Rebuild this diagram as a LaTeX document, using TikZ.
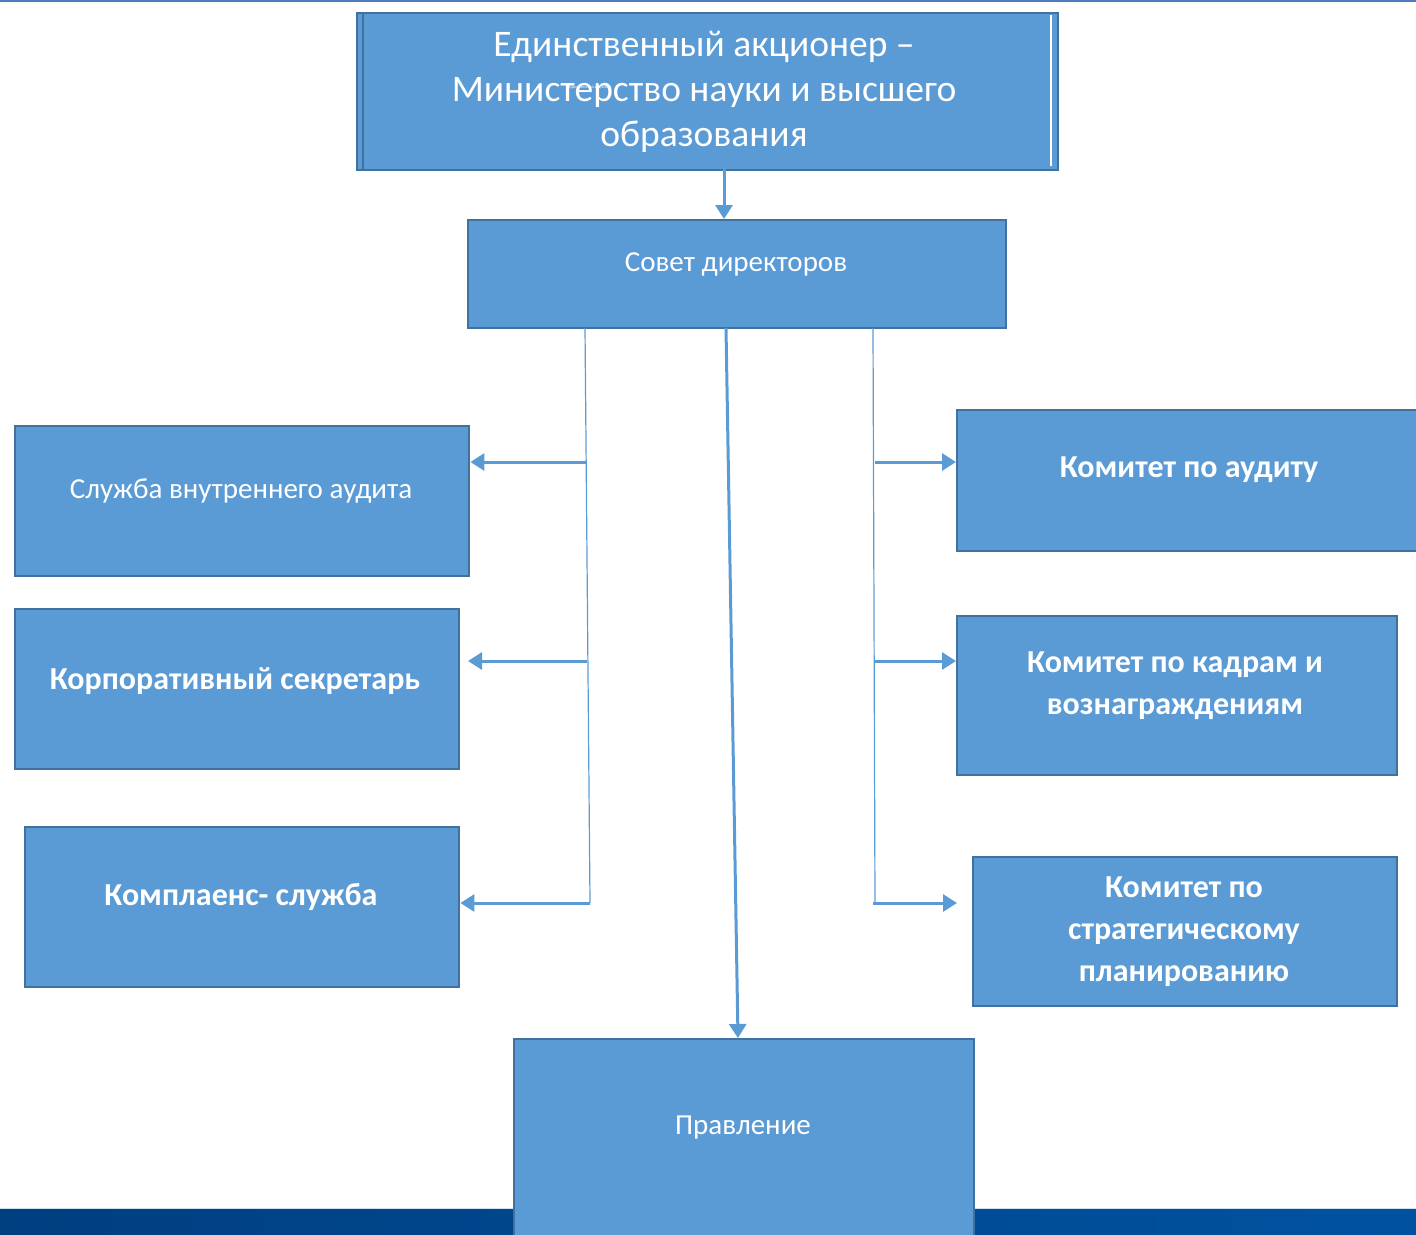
\documentclass[tikz,border=0pt]{standalone}
\usepackage{fontspec}
\setmainfont{Carlito}
\usetikzlibrary{arrows.meta}
\definecolor{boxfill}{HTML}{5B9BD5}
\definecolor{boxline}{HTML}{41719C}
\definecolor{bandL}{HTML}{003F80}
\definecolor{bandR}{HTML}{0052A0}
\definecolor{topline}{HTML}{4F7BC0}
\tikzset{
  orgbox/.style={draw=boxline, fill=boxfill, line width=2.4pt, inner sep=0pt, anchor=north west},
  wtext/.style={text=white, align=center, font=\fontsize{29}{36}\selectfont},
  btext/.style={text=white, align=center, font=\bfseries\fontsize{32}{42}\selectfont},
  conn/.style={draw=boxfill, line width=3pt, -{Triangle[length=14pt,width=17pt]}},
  thinline/.style={draw=boxfill, line width=1.2pt},
}
\begin{document}
\begin{tikzpicture}[x=1pt,y=-1pt]
\useasboundingbox (0,0) rectangle (1416,1234);
% top thin line
\draw[topline, line width=1.5pt] (0,1) -- (1416,1);
% bottom band
\shade[left color=bandL, right color=bandR] (0,1208) rectangle (1416,1234);
\draw[white!70!boxfill, line width=1pt] (0,1208) -- (1416,1208);

% top box (double edge)
\node[orgbox, minimum width=695pt, minimum height=157pt] (shadow) at (356,12) {};
\node[orgbox, minimum width=695pt, minimum height=157pt] (top) at (362,12) {};
\draw[white, line width=1.5pt] (1051,15) -- (1051,166);
\node[text=white, align=center, font=\fontsize{37.5}{45}\selectfont] (toptext) at (704,92)
  {Единственный акционер –\\Министерство науки и высшего\\образования};
\node[text=white, font=\fontsize{4}{5}\selectfont] (ghost) at (590,87) {Единственный акционер};

% Совет директоров
\node[orgbox, minimum width=538pt, minimum height=108pt] (sovet) at (467,219) {};
\node[wtext] (sovett) at (736,264) {Совет директоров};

% left boxes
\node[orgbox, minimum width=454pt, minimum height=150pt] (audit) at (14,425) {};
\node[wtext] (auditt) at (241,491) {Служба внутреннего аудита};
\node[orgbox, minimum width=444pt, minimum height=160pt] (secr) at (14,608) {};
\node[btext] (secrt) at (235,681) {Корпоративный секретарь};
\node[orgbox, minimum width=434pt, minimum height=160pt] (compl) at (24,826) {};
\node[btext] (complt) at (241,897) {Комплаенс- служба};

% right boxes
\node[orgbox, minimum width=470pt, minimum height=141pt] (kaud) at (956,409) {};
\node[btext] (kaudt) at (1189,470) {Комитет по аудиту};
\node[orgbox, minimum width=440pt, minimum height=159pt] (kkadr) at (956,615) {};
\node[btext] (kkadrt) at (1175,686) {Комитет по кадрам и\\вознаграждениям};
\node[orgbox, minimum width=424pt, minimum height=149pt] (kstrat) at (972,856) {};
\node[btext] (kstratt) at (1184,932) {Комитет по\\стратегическому\\планированию};

% Правление
\node[orgbox, minimum width=460pt, minimum height=220pt] (prav) at (513,1038) {};
\node[wtext] (pravt) at (743,1128) {Правление};

% connectors
\coordinate (tA) at (724,169);
\coordinate (tB) at (724,219);
\draw[conn] (tA) -- (tB);

\coordinate (mA) at (726,328);
\coordinate (mB) at (738,1038);
\draw[conn] (mA) -- (mB);

% left trunk
\coordinate (L0) at (585,328);
\coordinate (L1) at (585.5,462);
\coordinate (L2) at (587,661);
\coordinate (L3) at (590,903);
\draw[thinline] (L0) -- (L3);
\draw[conn] (L1) -- (audit.east |- L1);
\draw[conn] (L2) -- (468,661);
\draw[conn] (L3) -- (compl.east |- L3);

% right trunk
\coordinate (R0) at (873,328);
\coordinate (R1) at (874.5,462);
\coordinate (R2) at (875,661);
\coordinate (R3) at (875,903);
\draw[thinline] (R0) -- (R3);
\draw[conn] (R1) -- (kaud.west |- R1);
\draw[conn] (R2) -- (kkadr.west |- R2);
\draw[conn] (873,903) -- (957,903);
\end{tikzpicture}
\end{document}
